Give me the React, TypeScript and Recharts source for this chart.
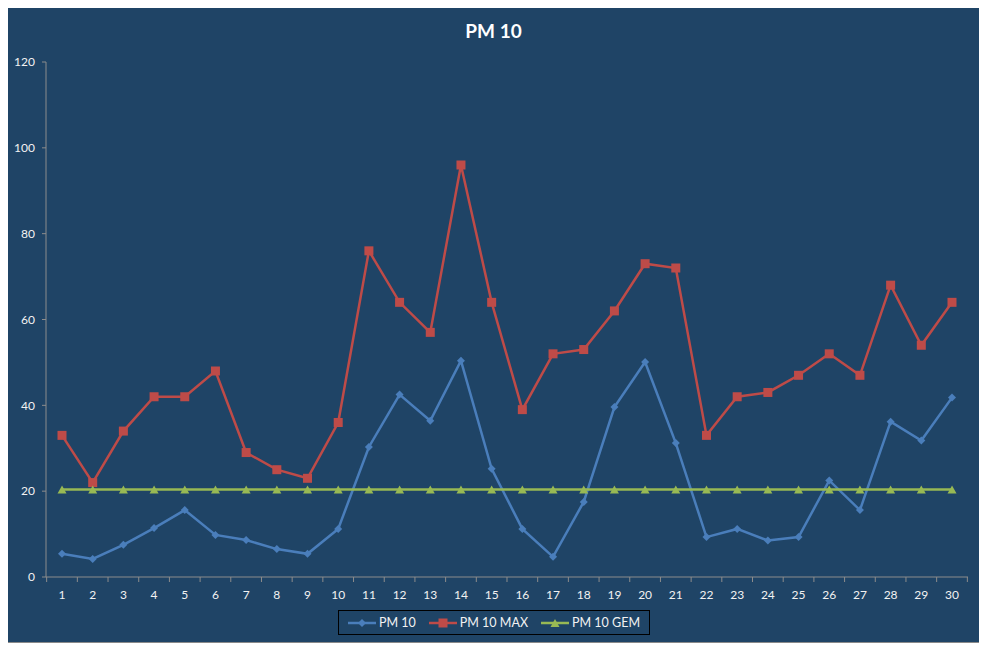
import { LineChart, Line, XAxis, YAxis } from "recharts";

// values
const days = [1, 2, 3, 4, 5, 6, 7, 8, 9, 10, 11, 12, 13, 14, 15, 16, 17, 18, 19, 20, 21, 22, 23, 24, 25, 26, 27, 28, 29, 30];
const pm10 = [5.4, 4.2, 7.5, 11.4, 15.6, 9.8, 8.6, 6.5, 5.4, 11.2, 30.3, 42.5, 36.4, 50.4, 25.2, 11.2, 4.7, 17.5, 39.6, 50.1, 31.2, 9.3, 11.2, 8.5, 9.3, 22.5, 15.6, 36.2, 31.8, 41.8];
const pm10Max = [33, 22, 34, 42, 42, 48, 29, 25, 23, 36, 76, 64, 57, 96, 64, 39, 52, 53, 62, 73, 72, 33, 42, 43, 47, 52, 47, 68, 54, 64];
const pm10Gem = [20.4, 20.4, 20.4, 20.4, 20.4, 20.4, 20.4, 20.4, 20.4, 20.4, 20.4, 20.4, 20.4, 20.4, 20.4, 20.4, 20.4, 20.4, 20.4, 20.4, 20.4, 20.4, 20.4, 20.4, 20.4, 20.4, 20.4, 20.4, 20.4, 20.4];
const yTicks = [0, 20, 40, 60, 80, 100, 120];

const data = days.map((d, i) => ({
  day: d,
  pm10: pm10[i],
  pm10Max: pm10Max[i],
  pm10Gem: pm10Gem[i],
}));

const BLUE = "#4A7EBB";
const RED = "#BE4B48";
const GREEN = "#98B954";
const AXIS = "#8C8C8C";
const FONT = "Lato, 'Open Sans', sans-serif";
const HALF = 15.35;

const Diamond = ({ cx, cy, fill }: any) => (
  <path d={`M${cx},${cy - 4} L${cx + 4},${cy} L${cx},${cy + 4} L${cx - 4},${cy} Z`} fill={fill} />
);
const Square = ({ cx, cy, fill }: any) => (
  <rect x={cx - 4.5} y={cy - 4.5} width={9} height={9} fill={fill} />
);
const Triangle = ({ cx, cy, fill }: any) => (
  <path d={`M${cx},${cy - 4} L${cx + 4.5},${cy + 4} L${cx - 4.5},${cy + 4} Z`} fill={fill} />
);

const XTick = (props: any) => {
  const { x, y, payload, index } = props;
  return (
    <g>
      <line x1={x - HALF} x2={x - HALF} y1={y} y2={y + 5} stroke={AXIS} />
      {index === days.length - 1 && (
        <line x1={x + HALF} x2={x + HALF} y1={y} y2={y + 5} stroke={AXIS} />
      )}
      <text x={x} y={y + 22} textAnchor="middle" fill="#F2F2F2" fontSize={12} fontFamily={FONT}>
        {payload.value}
      </text>
    </g>
  );
};

const LegendItem = ({ color, label, Marker, last }: any) => (
  <div style={{ display: "flex", alignItems: "center", marginRight: last ? 0 : 13, flexShrink: 0, whiteSpace: "nowrap" }}>
    <svg width={28} height={12}>
      <line x1={0} x2={28} y1={6} y2={6} stroke={color} strokeWidth={2.5} />
      <Marker cx={14} cy={6} fill={color} />
    </svg>
    <span style={{ marginLeft: 3, color: "#F2F2F2", fontSize: 12.5, fontFamily: FONT }}>{label}</span>
  </div>
);

export default function App() {
  return (
    <div style={{ position: "relative", width: 987, height: 648, margin: "-8px 0 0 -8px" }}>
      <div
        style={{
          position: "absolute",
          left: 5,
          top: 5,
          width: 978,
          height: 638,
          boxSizing: "border-box",
          background: "#1F4466",
          border: "1px solid #8A8A8A",
        }}
      />
      <div
        style={{
          position: "absolute",
          left: 0,
          width: 987,
          top: 19,
          textAlign: "center",
          color: "#FFFFFF",
          fontFamily: FONT,
          fontWeight: "bold",
          fontSize: 19,
        }}
      >
        PM 10
      </div>
      <div style={{ position: "absolute", left: 0, top: 0 }}>
        <LineChart width={987} height={648} data={data} margin={{ top: 62, right: 19, bottom: 41, left: 6 }}>
          <XAxis
            dataKey="day"
            height={30}
            padding={{ left: 16, right: 16 }}
            axisLine={{ stroke: AXIS }}
            tickLine={false}
            tickSize={0}
            tickMargin={0}
            interval={0}
            tick={<XTick />}
          />
          <YAxis
            width={40}
            domain={[0, 120]}
            ticks={yTicks}
            interval={0}
            axisLine={{ stroke: AXIS }}
            tickLine={{ stroke: AXIS }}
            tickSize={4}
            tickMargin={7}
            tick={{ fill: "#F2F2F2", fontSize: 12, fontFamily: FONT }}
          />
          <Line
            dataKey="pm10"
            stroke={BLUE}
            strokeWidth={2.5}
            isAnimationActive={false}
            dot={(p: any) => <Diamond key={`b${p.index}`} cx={p.cx} cy={p.cy} fill={BLUE} />}
          />
          <Line
            dataKey="pm10Max"
            stroke={RED}
            strokeWidth={2.5}
            isAnimationActive={false}
            dot={(p: any) => <Square key={`r${p.index}`} cx={p.cx} cy={p.cy} fill={RED} />}
          />
          <Line
            dataKey="pm10Gem"
            stroke={GREEN}
            strokeWidth={2.5}
            isAnimationActive={false}
            dot={(p: any) => <Triangle key={`g${p.index}`} cx={p.cx} cy={p.cy} fill={GREEN} />}
          />
        </LineChart>
      </div>
      <div
        style={{
          position: "absolute",
          left: 338,
          top: 610,
          width: 312,
          height: 25,
          boxSizing: "border-box",
          border: "1px solid #000000",
          display: "flex",
          alignItems: "center",
          justifyContent: "center",
        }}
      >
        <LegendItem color={BLUE} label="PM 10" Marker={Diamond} />
        <LegendItem color={RED} label="PM 10 MAX" Marker={Square} />
        <LegendItem color={GREEN} label="PM 10 GEM" Marker={Triangle} last />
      </div>
    </div>
  );
}
